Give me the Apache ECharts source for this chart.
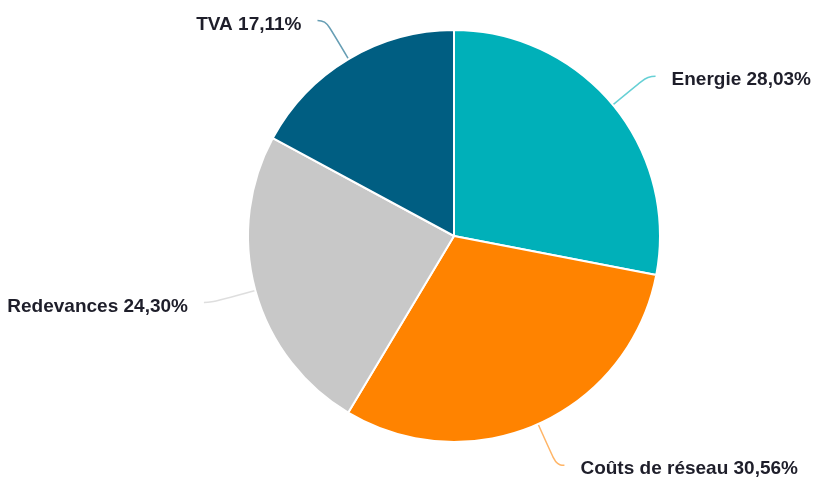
<!DOCTYPE html>
<html>
<head>
<meta charset="utf-8">
<style>html,body{margin:0;padding:0;background:#fff;}#c{width:814px;height:480px;}</style>
<script src="https://cdn.jsdelivr.net/npm/echarts@6/dist/echarts.min.js"></script>
</head>
<body>
<div id="c"></div>
<script>
const categories = ['Energie', 'Coûts de réseau', 'Redevances', 'TVA'];
const values = [28.03, 30.56, 24.30, 17.11];
const colors = ['#00b0b9', '#ff8300', '#c8c8c8', '#005e82'];

const chart = echarts.init(document.getElementById('c'));
chart.setOption({
  animation: false,
  color: colors,
  series: [{
    type: 'pie',
    center: [454, 236],
    radius: 206,
    startAngle: 90,
    clockwise: true,
    avoidLabelOverlap: false,
    itemStyle: { borderColor: '#fff', borderWidth: 2 },
    label: {
      show: true,
      position: 'outside',
      fontFamily: 'Liberation Sans',
      fontWeight: 'bold',
      fontSize: 19,
      color: '#1e1e2a',
      distanceToLabelLine: 16,
      formatter: p => p.name + ' ' + p.value.toFixed(2).replace('.', ',') + '%'
    },
    labelLine: {
      show: true,
      length: 45,
      length2: 8,
      smooth: 0.5,
      lineStyle: { width: 1.5, opacity: 0.6 }
    },
    labelLayout: { dy: 4 },
    data: categories.map((n, i) => ({ name: n, value: values[i] }))
  }]
});
</script>
</body>
</html>
